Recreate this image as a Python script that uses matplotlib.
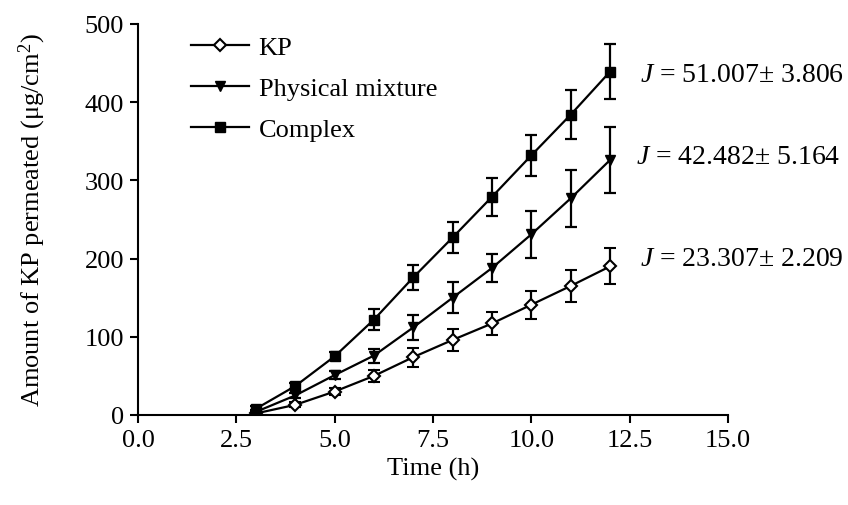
import matplotlib.pyplot as plt

plt.rcParams['font.family'] = ['Liberation Serif', 'DejaVu Serif']
plt.rcParams['mathtext.fontset'] = 'custom'
plt.rcParams['mathtext.rm'] = 'Liberation Serif'
plt.rcParams['mathtext.it'] = 'Liberation Serif:italic'

time_h = [3, 4, 5, 6, 7, 8, 9, 10, 11, 12]

kp = [2, 13, 30, 50, 74, 96, 117, 141, 165, 190]
kp_err = [2, 3, 5, 8, 12, 14, 15, 18, 20, 23]

phys = [4, 25, 51, 76, 112, 150, 188, 231, 277, 326]
phys_err = [2, 3, 5, 9, 16, 20, 18, 30, 36, 42]

complex_ = [8, 37, 75, 122, 176, 227, 279, 332, 384, 439]
complex_err = [3, 4, 5, 13, 16, 20, 24, 26, 31, 35]

flux_labels = ['$J$ = 51.007± 3.806', '$J$ = 42.482± 5.164', '$J$ = 23.307± 2.209']
flux_y = [435, 330, 200]
flux_x = [12.75, 12.65, 12.75]

fig = plt.figure(figsize=(8.48, 5.06), dpi=100)
ax = fig.add_axes([0.1627, 0.1779, 0.6958, 0.7727])

ax.errorbar(time_h, kp, yerr=kp_err, marker='D', markerfacecolor='white', markeredgewidth=1.5,
            markersize=6, label='KP', color='black', lw=1.6, elinewidth=1.6, capsize=4.5, capthick=1.6)
ax.errorbar(time_h, phys, yerr=phys_err, marker='v', markersize=7, label='Physical mixture',
            color='black', lw=1.6, elinewidth=1.6, capsize=4.5, capthick=1.6)
ax.errorbar(time_h, complex_, yerr=complex_err, marker='s', markersize=7, label='Complex',
            color='black', lw=1.6, elinewidth=1.6, capsize=4.5, capthick=1.6)

ax.set_xlim(0, 15)
ax.set_ylim(0, 500)
ax.set_xticks([0, 2.5, 5, 7.5, 10, 12.5, 15])
ax.set_xticklabels(['0.0', '2.5', '5.0', '7.5', '10.0', '12.5', '15.0'])
ax.set_yticks(range(0, 501, 100))
ax.tick_params(labelsize=19, length=6, width=1.5, direction='out', pad=4)
for s in ['top', 'right']:
    ax.spines[s].set_visible(False)
for s in ['left', 'bottom']:
    ax.spines[s].set_linewidth(1.5)

ax.set_xlabel('Time (h)', fontsize=19, labelpad=4)
ax.set_ylabel('Amount of KP permeated (μg/cm$^2$)', fontsize=19, labelpad=26)

handles, labels = ax.get_legend_handles_labels()
handles = [h[0] for h in handles]
ax.legend(handles, labels, loc='upper left', bbox_to_anchor=(0.05, 1.03), frameon=False,
          fontsize=19, handlelength=2.2, labelspacing=0.65, handletextpad=0.35)

for lab, xv, yv in zip(flux_labels, flux_x, flux_y):
    ax.text(xv, yv, lab, fontsize=20, va='center', ha='left', clip_on=False)

fig.savefig('out.png', dpi=100)
